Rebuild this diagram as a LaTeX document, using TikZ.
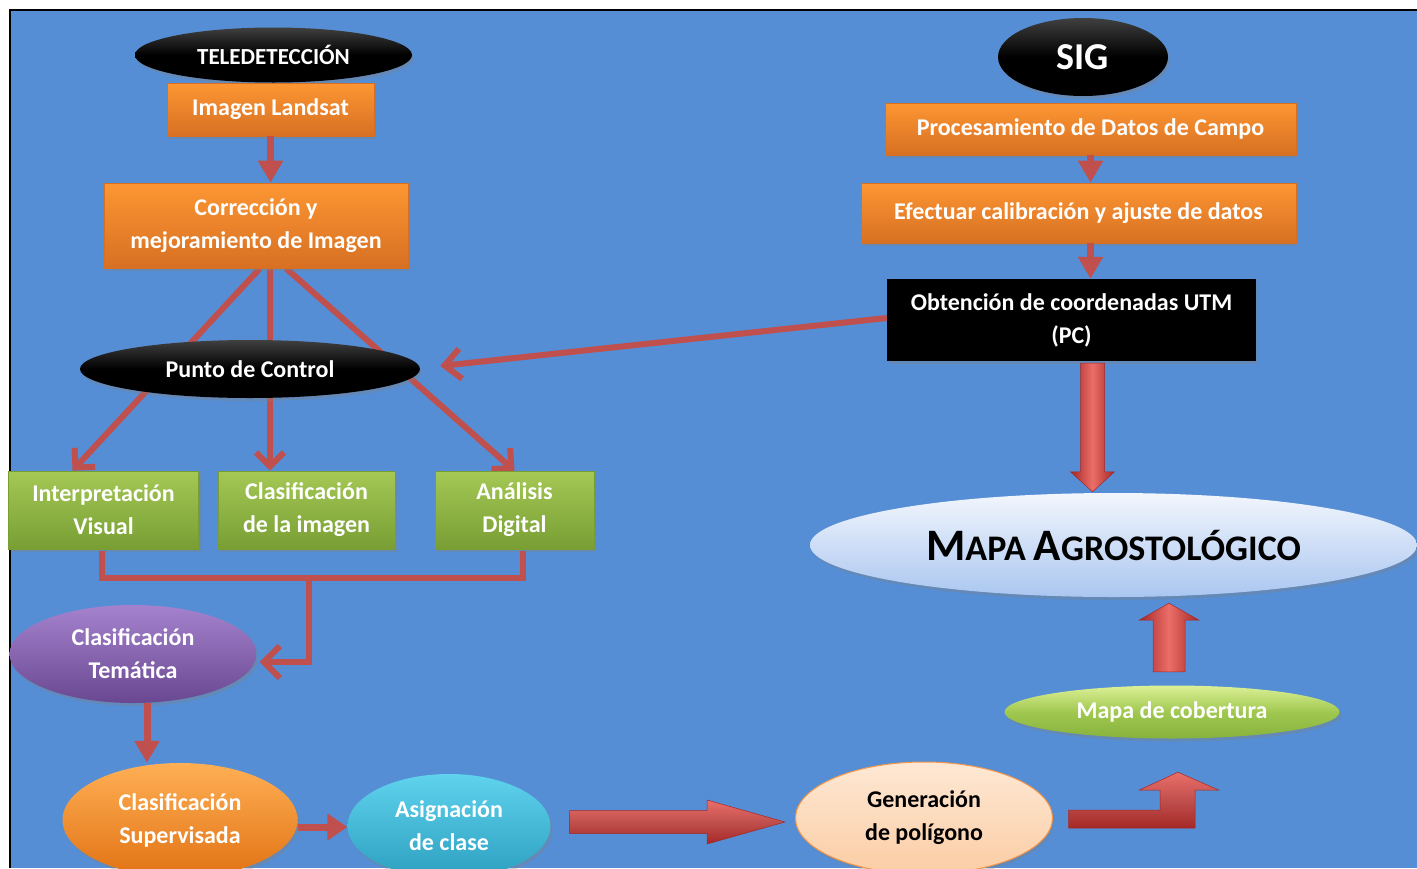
\documentclass[tikz,border=0pt]{standalone}
\usepackage{fontspec}
\setmainfont{Carlito}
\usetikzlibrary{shapes.geometric,arrows.meta,shadows,calc}
\definecolor{bgblue}{RGB}{85,142,213}
\definecolor{arrred}{RGB}{192,80,77}
\definecolor{arrdark}{RGB}{165,40,38}
\definecolor{arrlight}{RGB}{235,110,105}
\definecolor{orgtop}{RGB}{253,150,50}
\definecolor{orgbot}{RGB}{215,112,35}
\definecolor{grtop}{RGB}{165,200,85}
\definecolor{grbot}{RGB}{120,158,52}
\definecolor{purtop}{RGB}{165,130,205}
\definecolor{purbot}{RGB}{105,72,145}
\definecolor{cyantop}{RGB}{95,210,238}
\definecolor{cyanbot}{RGB}{45,160,192}
\definecolor{peachtop}{RGB}{254,232,212}
\definecolor{peachbot}{RGB}{251,205,165}
\definecolor{peachbd}{RGB}{247,150,70}
\definecolor{lgrtop}{RGB}{220,240,150}
\definecolor{lgrbot}{RGB}{135,178,60}
\definecolor{mapatop}{RGB}{242,246,253}
\definecolor{mapabot}{RGB}{170,198,240}
\definecolor{suptop}{RGB}{255,175,85}
\definecolor{supbot}{RGB}{225,115,20}
\pgfdeclarelayer{back}
\pgfdeclarelayer{mid}
\pgfsetlayers{back,mid,main}
\tikzset{
  txt/.style={font=\fontsize{24}{33}\selectfont\bfseries, align=center, inner sep=0pt},
  shad/.style={drop shadow={opacity=0.35, shadow xshift=2pt, shadow yshift=-3pt}},
  orabox/.style={txt, rectangle, text=white, top color=orgtop, bottom color=orgbot, draw=orgbot, line width=0.6pt, shad},
  grbox/.style={txt, rectangle, text=white, top color=grtop, bottom color=grbot, draw=grbot, line width=0.6pt, shad},
  blkbox/.style={txt, rectangle, text=white, fill=black, shad},
  blkell/.style={txt, ellipse, text=white, top color=black!75, bottom color=black, middle color=black, shad},
  colell/.style={txt, ellipse, text=white, shad},
  thinarr/.style={draw=arrred, line width=7pt, -{Triangle[length=22pt,width=24pt]}},
  fanarr/.style={draw=arrred, line width=6pt, -{Straight Barb[length=14pt,width=28pt]}},
  brk/.style={draw=arrred, line width=6pt},
  hblock/.style={top color=arrlight, bottom color=arrdark, middle color=arrred, draw=arrdark, line width=0.5pt},
  vblock/.style={left color=arrdark, right color=arrdark, middle color=arrlight, draw=arrdark, line width=0.5pt}
}
\begin{document}
\begin{tikzpicture}[x=1pt,y=-1pt]
\useasboundingbox (0,0) rectangle (1417,868);
\begin{pgfonlayer}{back}
\fill[white] (0,0) rectangle (1417,868);
\fill[bgblue] (10,10) rectangle (1417,868);
\draw[line width=2pt] (10,868) -- (10,10) -- (1417,10);
\end{pgfonlayer}

% left column
\node[blkell, minimum width=277, minimum height=55, font=\fontsize{23}{28}\selectfont\bfseries] (tele) at (273.5,55) {TELEDETECCIÓN};
\node[orabox, minimum width=207, minimum height=53] (img) at (270.5,109.5) {Imagen Landsat};
\node[orabox, minimum width=304, minimum height=85] (corr) at (256,225.5) {Corrección y\\mejoramiento de Imagen};
\node[blkell, minimum width=340, minimum height=58] (punto) at (250,369) {Punto de Control};
\node[grbox, minimum width=190, minimum height=78] (interp) at (103.5,510) {Interpretación\\Visual};
\node[grbox, minimum width=177, minimum height=78] (clasim) at (306.5,510) {Clasificación\\de la imagen};
\node[grbox, minimum width=159, minimum height=78] (anal) at (514.5,510) {Análisis\\Digital};
\node[colell, top color=purtop, bottom color=purbot, minimum width=247, minimum height=98] (tem) at (133,654) {Clasificación\\Temática};
\node[colell, top color=suptop, bottom color=supbot, minimum width=235, minimum height=114] (sup) at (180,820) {Clasificación\\Supervisada};
\node[colell, top color=cyantop, bottom color=cyanbot, minimum width=203, minimum height=104] (asig) at (449,826) {Asignación\\de clase};
\node[colell, text=black, top color=peachtop, bottom color=peachbot, draw=peachbd, line width=1pt, minimum width=257, minimum height=112] (gen) at (924,818) {Generación\\de polígono};

% right column
\node[blkell, minimum width=170, minimum height=78, font=\fontsize{38}{44}\selectfont\bfseries] (sig) at (1083,57) {SIG};
\node[orabox, minimum width=411, minimum height=52] (proc) at (1090.5,129) {Procesamiento de Datos de Campo};
\node[orabox, minimum width=435, minimum height=60] (efec) at (1078.5,213) {Efectuar calibración y ajuste de datos};
\node[blkbox, minimum width=369, minimum height=82] (obt) at (1071.5,320) {Obtención de coordenadas UTM\\(PC)};
\node[colell, text=black, top color=mapatop, bottom color=mapabot, minimum width=607, minimum height=104] (mapa) at (1113.5,545)
  {\fontsize{45}{50}\selectfont M\fontsize{36}{40}\selectfont APA \fontsize{45}{50}\selectfont A\fontsize{36}{40}\selectfont GROSTOLÓGICO};
\node[colell, top color=lgrtop, bottom color=lgrbot, middle color={rgb,255:red,160;green,200;blue,80}, minimum width=335, minimum height=53] (cob) at (1172,712) {Mapa de cobertura};

% helper coordinates
\coordinate (cl) at ($(corr.south)+(4,0)$);
\coordinate (cc) at ($(corr.south)+(14,0)$);
\coordinate (cr) at ($(corr.south)+(30,0)$);
\coordinate (il) at ($(interp.north)+(-31,0)$);
\coordinate (ts) at ($(tem.south)+(14,0)$);

% straight arrows
\draw[thinarr] (img.south) -- (img.south |- corr.north);
\draw[thinarr] (proc.south) -- (proc.south |- efec.north);
\draw[thinarr] (proc.south |- efec.south) -- (proc.south |- obt.north);
\draw[thinarr] (ts) -- (ts |- sup.north);
\draw[thinarr, -{Triangle[length=20pt,width=26pt]}] ($(sup.east)+(0,7)$) -- ($(asig.west)+(0,1)$);

% fan lines behind Punto de Control
\begin{pgfonlayer}{mid}
\draw[fanarr] (cl) -- (il);
\draw[fanarr] (cc) -- (cc |- clasim.north);
\draw[fanarr] (cr) -- (anal.north);
\end{pgfonlayer}
\draw[fanarr, -{Straight Barb[length=16pt,width=30pt]}] ($(obt.west)+(0,-2)$) -- ($(punto.east)+(20,-3)$);

% bracket
\draw[brk] ($(interp.south)+(-2,2)$) -- ++(0,27) -| ($(anal.south)+(8,2)$);
\coordinate (bj) at ($($(interp.south)!0.5!(anal.south)$)+(0,29)$);
\draw[brk, -{Straight Barb[length=16pt,width=32pt]}] (bj) |- ($(tem.east)+(3,8)$);

% block arrow Asignacion -> Generacion
\coordinate (ba1) at ($(asig.east)+(19,-4)$);
\coordinate (ba2) at ($(gen.west)+(-10,4)$);
\shade[hblock] ($(ba1)+(0,-11.5)$) -- ($(ba2)+(-78,-11.5)$) -- ($(ba2)+(-78,-22)$) -- (ba2)
  -- ($(ba2)+(-78,22)$) -- ($(ba2)+(-78,11.5)$) -- ($(ba1)+(0,11.5)$) -- cycle;

% block arrow Obtencion -> Mapa
\coordinate (bb1) at ($(obt.south)+(21,2)$);
\coordinate (bb2) at ($(mapa.north)+(-21,-1)$);
\shade[vblock] ($(bb1)+(-12,0)$) -- ($(bb2)+(-12,-20)$) -- ($(bb2)+(-22,-20)$) -- (bb2)
  -- ($(bb2)+(22,-20)$) -- ($(bb2)+(12,-20)$) -- ($(bb1)+(12,0)$) -- cycle;

% block arrow cobertura -> Mapa (up)
\coordinate (bc1) at ($(cob.north)+(-3,-13.5)$);
\coordinate (bc2) at ($(mapa.south)+(55.5,6)$);
\shade[vblock] ($(bc1)+(-16,0)$) -- ($(bc2)+(-16,17)$) -- ($(bc2)+(-30,17)$) -- (bc2)
  -- ($(bc2)+(30,17)$) -- ($(bc2)+(16,17)$) -- ($(bc1)+(16,0)$) -- cycle;

% bent block arrow Generacion -> cobertura
\coordinate (bd1) at ($(gen.east)+(15.5,-8)$);
\coordinate (bd2) at ($(cob.south)+(6,33.5)$);
\shade[hblock] (bd1) -- ($(bd2)+(-18,38)$) -- ($(bd2)+(-18,18)$) -- ($(bd2)+(-39,18)$) -- (bd2)
  -- ($(bd2)+(41,18)$) -- ($(bd2)+(17,18)$) -- ($(bd2)+(17,56)$) -- ($(bd1)+(0,18)$) -- cycle;
\end{tikzpicture}
\end{document}
